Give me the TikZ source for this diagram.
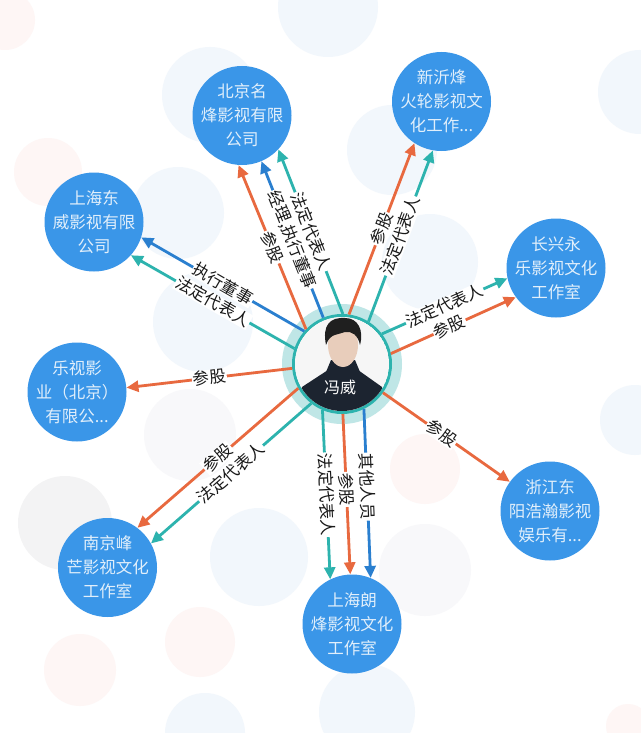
\documentclass[tikz,border=0pt]{standalone}
\usepackage{fontspec}
\setmainfont{Noto Sans CJK SC}
\usetikzlibrary{arrows.meta}
\definecolor{cblue}{HTML}{3A96E8}
\definecolor{lblue}{HTML}{2A7FCF}
\definecolor{lteal}{HTML}{2DB3AE}
\definecolor{lorange}{HTML}{E8693F}
\definecolor{halo}{HTML}{BFE6E6}
\definecolor{palebl}{HTML}{F2F7FC}
\definecolor{palerd}{HTML}{FEF6F5}
\definecolor{palegr}{HTML}{F3F3F4}
\definecolor{palegs}{HTML}{F8F8FA}
\definecolor{jacket}{HTML}{1C2430}
\definecolor{skin}{HTML}{E8CDBB}
\tikzset{
  company/.style={circle,fill=cblue,minimum size=99pt,inner sep=-12pt,text=white!85!cblue,align=center,font=\fontsize{16.5}{24}\selectfont},
  link/.style={line width=2.8pt,-{Triangle[length=12pt,width=11pt]}},
  tealk/.style={link,draw=lteal},
  orangek/.style={link,draw=lorange},
  bluek/.style={link,draw=lblue},
  lab/.style={sloped,fill=white,inner sep=1pt,text height=13pt,text depth=1.5pt,text=black!90,font=\fontsize{16.5}{16.5}\selectfont},
  bgb/.style={fill=palebl},
  bgr/.style={fill=palerd},
  bgg/.style={fill=palegr},
  bgs/.style={fill=palegs}
}
\begin{document}
\begin{tikzpicture}[x=1pt,y=-1pt]
\useasboundingbox (0,0) rectangle (640,733);
\fill[white] (0,0) rectangle (640,733);
% faint background discs
\fill[bgb] (210,95) circle (48);
\fill[bgb] (392,150) circle (45);
\fill[bgb] (178,213) circle (46);
\fill[bgb] (203,322) circle (50);
\fill[bgb] (430,262) circle (48);
\fill[bgb] (259,557) circle (49);
\fill[bgb] (328,7) circle (50);
\fill[bgb] (640,92) circle (42);
\fill[bgb] (635,420) circle (35);
\fill[bgb] (367,712) circle (48);
\fill[bgb] (205,733) circle (40);
\fill[bgr] (48,172) circle (34);
\fill[bgr] (5,20) circle (30);
\fill[bgr] (425,469) circle (35);
\fill[bgr] (200,642) circle (35);
\fill[bgr] (80,670) circle (36);
\fill[bgr] (628,726) circle (22);
\fill[bgg] (65,523) circle (47);
\fill[bgs] (190,435) circle (46);
\fill[bgs] (425,570) circle (46);
% centre
\fill[halo] (342,364) circle (60);
\node[circle,fill=white,draw=lteal,line width=3pt,minimum size=97pt,inner sep=0pt] (hub) at (342,364) {};
\begin{scope}
\clip (342,364) circle (47);
\fill[white!93!gray] (342,364) circle (47);
\fill[jacket] (295,420) -- (302,387) -- (328,370) -- (342,378) -- (358,370) -- (382,387) -- (390,420) -- cycle;
\fill[jacket] (326,372) -- (331,360) -- (355,360) -- (360,372) -- (343,385) -- cycle;
\fill[skin] (343,345) ellipse (15 and 22);
\fill[black!88] (326,345) .. controls (322,325) and (330,317) .. (345,318) .. controls (358,318) and (364,330) .. (360,345) .. controls (358,335) and (352,331) .. (345,332) .. controls (338,335) and (330,333) .. (326,345) -- cycle;
\end{scope}
\node[text=white,font=\fontsize{16}{16}\selectfont] (name) at (340,387) {冯威};
% companies
\node[company] (bj) at (242,115.5) {北京名\\烽影视有限\\公司};
\node[company] (xy) at (441.5,101.5) {新沂烽\\火轮影视文\\化工作...};
\node[company] (sh) at (94,222) {上海东\\威影视有限\\公司};
\node[company] (cx) at (556,268) {长兴永\\乐影视文化\\工作室};
\node[company] (lv) at (77,392) {乐视影\\业（北京）\\有限公...};
\node[company] (zj) at (550,511) {浙江东\\阳浩瀚影视\\娱乐有...};
\node[company] (nj) at (107.5,567.5) {南京峰\\芒影视文化\\工作室};
\node[company] (lf) at (352,624) {上海朗\\烽影视文化\\工作室};
% connectors
\draw[bluek] (hub.139.4) -- node[lab]{执行董事} (sh.-18.5);
\draw[tealk] (hub.162) -- node[lab]{法定代表人} (sh.-42.6);
\draw[orangek] (hub.136.5) -- node[lab]{参股} (bj.266.7);
\draw[bluek] (hub.112.5) -- node[lab]{经理,执行董事} (bj.-67.3);
\draw[tealk] (hub.89) -- node[lab]{法定代表人} (bj.-43.3);
\draw[orangek] (hub.82) -- node[lab]{参股} (xy.237.4);
\draw[tealk] (hub.58) -- node[lab]{法定代表人} (xy.260.7);
\draw[tealk] (hub.37) -- node[lab]{法定代表人} (cx.192.8);
\draw[orangek] (hub.12.8) -- node[lab,pos=.47]{参股} (cx.216);
\draw[orangek] (hub.185.4) -- node[lab]{参股} (lv.5.9);
\draw[orangek] (hub.209) -- node[lab]{参股} (nj.53.5);
\draw[tealk] (hub.232) -- node[lab]{法定代表人} (nj.29.3);
\draw[orangek] (hub.-35.5) -- node[lab,pos=.46]{参股} (zj.144.3);
\draw[tealk] (hub.247.6) -- node[lab]{法定代表人} (lf.116.4);
\draw[orangek] (hub.-89) -- node[lab,pos=.47]{参股} (lf.92);
\draw[bluek] (hub.-64.4) -- node[lab,pos=.46]{其他人员} (lf.68);
\end{tikzpicture}
\end{document}
